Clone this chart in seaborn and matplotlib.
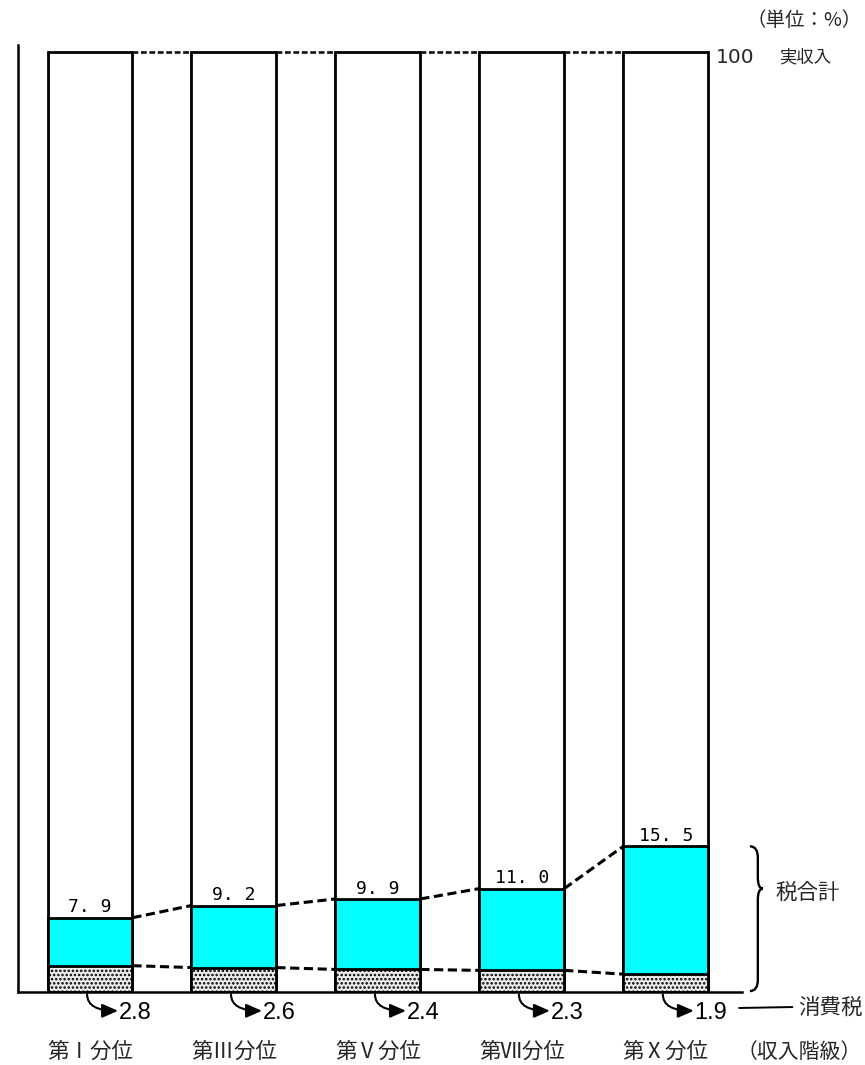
import matplotlib
matplotlib.use("Agg")
import matplotlib.pyplot as plt
from matplotlib.path import Path
from matplotlib.patches import PathPatch
import seaborn as sns

# Income quintile classes and shares of actual income (%)
classes = ["第Ⅰ分位", "第Ⅲ分位", "第Ⅴ分位", "第Ⅶ分位", "第Ⅹ分位"]
income_total = [100, 100, 100, 100, 100]
tax_total = [7.9, 9.2, 9.9, 11.0, 15.5]
consumption_tax = [2.8, 2.6, 2.4, 2.3, 1.9]

sns.set_theme(style="white")
plt.rcParams["font.family"] = ["Noto Sans CJK JP", "DejaVu Sans"]
plt.rcParams["hatch.linewidth"] = 1.2

W, H = 865, 1065
fig = plt.figure(figsize=(W / 100, H / 100), dpi=100)
ax = fig.add_axes([18 / W, 73 / H, 724 / W, 947 / H])

bw = 0.59
common = dict(x=classes, width=bw, saturation=1, edgecolor="black", linewidth=2.0, ax=ax)
sns.barplot(y=income_total, color="white", **common)
sns.barplot(y=tax_total, color="#00FFFF", **common)
sns.barplot(y=consumption_tax, color="#ececec", hatch="....", **common)

ax.set_xlim(-0.5, 4.53)
ax.set_ylim(0, 100.75)
ax.set_xlabel("")
ax.set_ylabel("")
ax.set_xticks([])
ax.set_yticks([])
for side in ("top", "right"):
    ax.spines[side].set_visible(False)
for side in ("left", "bottom"):
    ax.spines[side].set_color("black")
    ax.spines[side].set_linewidth(1.8)

n = len(classes)
# dashed connectors between neighbouring bars
for i in range(n - 1):
    xa, xb = i + bw / 2, i + 1 - bw / 2
    ax.plot([xa, xb], [income_total[i], income_total[i + 1]], color="#111111",
            lw=1.9, dashes=(2.2, 1.0), zorder=5, clip_on=False)
    ax.plot([xa, xb], [tax_total[i], tax_total[i + 1]], color="black",
            lw=2.2, dashes=(3, 1.5), zorder=5)
    ax.plot([xa, xb], [consumption_tax[i], consumption_tax[i + 1]], color="black",
            lw=2.2, dashes=(3, 1.5), zorder=5)

# tax total labels above the cyan segments
for i, v in enumerate(tax_total):
    ax.annotate(f"{v:.1f}".replace(".", ". "), xy=(i, v), xytext=(0, 1),
                textcoords="offset points", ha="center", va="bottom",
                fontsize=13, family=["DejaVu Sans Mono"], color="black")

# consumption tax values with curved pointers below the baseline
for i, v in enumerate(consumption_tax):
    ax.annotate("", xy=(i + 0.195, -2.0), xytext=(i - 0.02, -0.25),
                arrowprops=dict(arrowstyle="-|>,head_length=0.8,head_width=0.35",
                                connectionstyle="angle3,angleA=90,angleB=0",
                                color="black", lw=1.5, shrinkA=0, shrinkB=0),
                annotation_clip=False)
    ax.text(i + 0.2, -2.25, f"{v:.1f}", ha="left", va="center", fontsize=17,
            family=["Liberation Sans"], color="black", clip_on=False)

# class labels
for i, c in enumerate(classes):
    ax.text(i, -6.4, c, ha="center", va="center", fontsize=15.5, clip_on=False)

# right-hand annotations
ax.text(4.35, 99.4, "100", ha="left", va="center", fontsize=14.5,
        family=["DejaVu Sans"], clip_on=False)
ax.text(4.79, 99.4, "実収入", ha="left", va="center", fontsize=12.5, clip_on=False)
fig.text(862 / W, 1 - 20 / H, "（単位：%）", ha="right", va="center", fontsize=14)
ax.text(4.93, -6.4, "（収入階級）", ha="center", va="center", fontsize=15, clip_on=False)
ax.text(4.76, 10.6, "税合計", ha="left", va="center", fontsize=15.5, clip_on=False)
ax.text(4.92, -1.7, "消費税", ha="left", va="center", fontsize=15.5, clip_on=False)
ax.plot([4.51, 4.88], [-1.7, -1.6], color="black", lw=1.4, clip_on=False)

# curly brace spanning the tax total
x0, x1, x2 = 4.585, 4.64, 4.675
top, bot = tax_total[-1], 0.1
mid = 11.0
d = 1.2
verts = [(x0, top), (x1, top), (x1, top - d),
         (x1, mid + d), (x1, mid), (x2, mid),
         (x1, mid), (x1, mid - d),
         (x1, bot + d), (x1, bot), (x0, bot)]
codes = [Path.MOVETO, Path.CURVE3, Path.CURVE3,
         Path.LINETO, Path.CURVE3, Path.CURVE3,
         Path.CURVE3, Path.CURVE3,
         Path.LINETO, Path.CURVE3, Path.CURVE3]
ax.add_patch(PathPatch(Path(verts, codes), fill=False, lw=1.7, color="black",
                       clip_on=False))

fig.savefig("out.png", dpi=100, facecolor="white")
